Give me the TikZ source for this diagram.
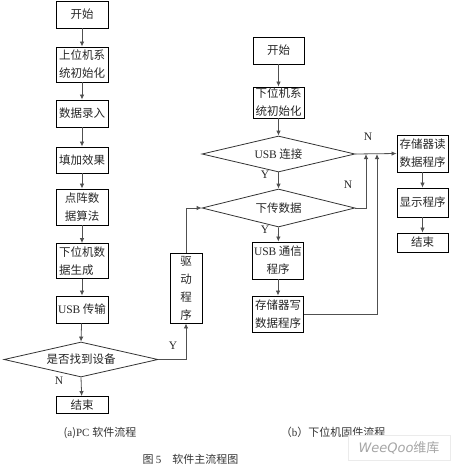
\documentclass[tikz,border=0pt]{standalone}
\usepackage{fontspec}
\setmainfont{Liberation Serif}
\newfontfamily\cjk{Noto Sans CJK SC}
\usetikzlibrary{shapes.geometric,arrows.meta}
\definecolor{linegray}{HTML}{505050}
\tikzset{
  box/.style={draw=black, line width=0.9pt, inner sep=1pt, align=center,
    font=\cjk\fontsize{11.5}{18}\selectfont, text=black!85},
  dia/.style={draw=black!80, line width=0.8pt, diamond, aspect=4, inner sep=0pt,
    font=\cjk\fontsize{11.5}{18}\selectfont, text=black!85},
  conn/.style={draw=linegray, line width=0.8pt, -{Latex[length=5pt,width=4.5pt]}},
  plainline/.style={draw=linegray, line width=0.8pt},
  lbl/.style={font=\fontsize{11.5}{13}\selectfont, text=black!85},
  captext/.style={font=\cjk\fontsize{11}{13}\selectfont, text=black!80}
}
\begin{document}
\begin{tikzpicture}[x=1pt,y=-1pt]
\useasboundingbox (0,0) rectangle (452,466);
% (a) PC flow
\node[box, minimum width=52pt, minimum height=27pt] (a1) at (82,14.5) {开始};
\node[box, minimum width=52pt, minimum height=35pt] (a2) at (82,64.5) {上位机系\\统初始化};
\node[box, minimum width=52pt, minimum height=27pt] (a3) at (82,113.5) {数据录入};
\node[box, minimum width=52pt, minimum height=26pt] (a4) at (82,160) {填加效果};
\node[box, minimum width=52pt, minimum height=36pt] (a5) at (82,207) {点阵数\\据算法};
\node[box, minimum width=52pt, minimum height=35pt, align=left] (a6) at (82,261) {下位机数\\据生成};
\node[box, minimum width=52pt, minimum height=27pt] (a7) at (82,309.5) {{\rmfamily USB} 传输};
\node[dia, minimum width=154pt, minimum height=35pt] (a8) at (81,359.5) {是否找到设备};
\node[box, minimum width=52pt, minimum height=17pt] (a9) at (82,405) {结束};
\node[box, minimum width=32pt, minimum height=70pt] (drv) at (186,288) {驱\\动\\程\\序};
% (b) firmware flow
\node[box, minimum width=51pt, minimum height=27pt] (b1) at (278.5,50.5) {开始};
\node[box, minimum width=51pt, minimum height=31pt] (b2) at (278.5,102.5) {下位机系\\统初始化};
\node[dia, minimum width=153pt, minimum height=36pt] (b3) at (278.5,154) {{\rmfamily USB} 连接};
\node[dia, minimum width=153pt, minimum height=38pt] (b4) at (278.5,208) {下传数据};
\node[box, minimum width=51pt, minimum height=37pt] (b5) at (278,260.5) {{\rmfamily USB} 通信\\程序};
\node[box, minimum width=51pt, minimum height=36pt] (b6) at (278,314) {存储器写\\数据程序};
\node[box, minimum width=51pt, minimum height=37pt] (c1) at (422.5,153.5) {存储器读\\数据程序};
\node[box, minimum width=51pt, minimum height=29pt] (c2) at (422.5,202.5) {显示程序};
\node[box, minimum width=51pt, minimum height=19pt] (c3) at (422.5,242.5) {结束};
\coordinate (j1) at (366,154);
\coordinate (j2) at (377,154);
% connectors (a)
\draw[conn] (a1) -- (a2);
\draw[conn] (a2) -- (a3);
\draw[conn] (a3) -- (a4);
\draw[conn] (a4) -- (a5);
\draw[conn] (a5) -- (a6);
\draw[conn] (a6) -- (a7);
\draw[conn] (a7) -- (a8.north);
\draw[conn] (a8.south) -- (a9);
\draw[conn] (a8.east) -| (drv.south);
\draw[conn] (drv.north) |- (b4.west);
% connectors (b)
\draw[conn] (b1) -- (b2);
\draw[conn] (b2) -- (b3.north);
\draw[conn] (b3.south) -- (b4.north);
\draw[conn] (b4.south) -- (b5);
\draw[conn] (b5) -- (b6);
\draw[conn] (b3.east) -- (c1.west);
\draw[conn] (b4.east) -| (j1);
\draw[conn] (b6.east) -| (j2);
\draw[conn] (c1) -- (c2);
\draw[conn] (c2) -- (c3);
% labels
\node[lbl] (ln1) at (59,381) {N};
\node[lbl] (ly1) at (173,346) {Y};
\node[lbl] (ly2) at (265,175) {Y};
\node[lbl] (ly3) at (265,230) {Y};
\node[lbl] (ln2) at (368,137) {N};
\node[lbl] (ln3) at (348,185) {N};
% captions
\node[captext] (capa) at (100,433) {({\rmfamily a})\rmfamily PC \cjk 软件流程};
\node[captext] (capb) at (333,432) {（{\rmfamily b}）下位机固件流程};
\node[captext, anchor=west] (capf) at (139,459) {图 {\rmfamily 5}\hspace{1em}软件主流程图};
% watermark
\node[draw=black!8, fill=white, minimum width=102pt, minimum height=25pt, inner sep=0pt,
  text=black!35, font=\fontsize{13}{15}\selectfont] (wm) at (399,448)
  {{\fontspec{DejaVu Sans}\itshape WeeQoo}{\cjk 维库}};
\end{tikzpicture}
\end{document}
